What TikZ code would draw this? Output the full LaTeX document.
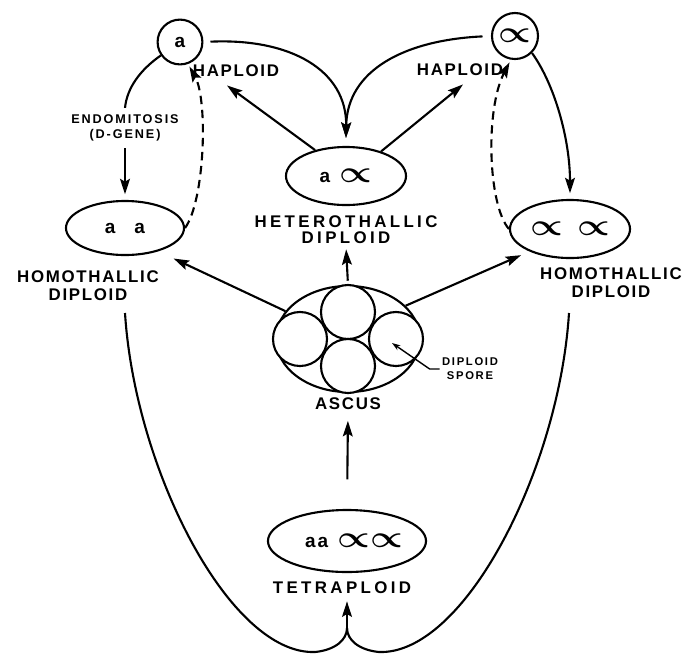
\documentclass[tikz,border=0pt]{standalone}
\usepackage{fontspec}
\usepackage{graphicx}
\usetikzlibrary{shapes.geometric,arrows.meta,calc}
\newfontfamily\lettering[LetterSpace=10]{Liberation Sans}
\newfontfamily\wideletter[LetterSpace=20]{Liberation Sans}
\newfontfamily\smallletter[LetterSpace=15]{Liberation Sans}
\newcommand{\alf}{\scalebox{1.8}[1.5]{\boldmath$\propto$}}

\begin{document}
\begin{tikzpicture}[
  x=0.025cm, y=-0.025cm, line width=1.5pt,
  cell/.style={draw, ellipse, inner sep=0pt, font=\lettering\bfseries\fontsize{13.5}{15}\selectfont},
  haploid/.style={draw, circle, inner sep=0pt, minimum size=1.12cm, font=\lettering\bfseries\fontsize{13.5}{15}\selectfont},
  spore/.style={draw, circle, fill=white, inner sep=0pt, minimum size=1.35cm},
  lbl/.style={align=center, inner sep=1pt, font=\lettering\bfseries\fontsize{12}{13}\selectfont},
  widelbl/.style={align=center, inner sep=1pt, font=\wideletter\bfseries\fontsize{12}{11.5}\selectfont},
  note/.style={align=center, inner sep=4pt, font=\smallletter\bfseries\fontsize{9}{11}\selectfont},
  arr/.style={-{Stealth[length=11pt,width=7pt,inset=2pt]}},
  back/.style={arr, dash pattern=on 6pt off 4pt}
]
  \useasboundingbox (0,0) rectangle (686,654);

  \node[haploid] (hapL) at (180,42) {a};
  \node[haploid, minimum size=1.15cm] (hapR) at (515,36) {\alf};
  \node[lbl] (hapLlbl) at (236,71) {HAPLOID};
  \node[lbl] (hapRlbl) at (460,70) {HAPLOID};

  \node[cell, minimum width=3cm, minimum height=1.45cm] (het) at (346,176) {a\enspace\alf};
  \node[widelbl] (hetlbl) at (346,230) {HETEROTHALLIC\\DIPLOID};

  \node[cell, minimum width=2.95cm, minimum height=1.35cm] (homL) at (125,228) {a\quad a};
  \node[lbl] (homLlbl) at (88,286) {HOMOTHALLIC\\DIPLOID};
  \node[cell, minimum width=3cm, minimum height=1.45cm] (homR) at (570,229) {\alf\hspace{10pt}\alf};
  \node[lbl] (homRlbl) at (611,283) {HOMOTHALLIC\\DIPLOID};

  \node[note] (endo) at (125,128) {ENDOMITOSIS\\(D-GENE)};

  \node[draw, ellipse, minimum width=3.6cm, minimum height=2.65cm] (ascus) at (348,339) {};
  \node[spore] (sp1) at (348,312) {};
  \node[spore] (sp2) at (300,339) {};
  \node[spore] (sp3) at (348,366) {};
  \node[spore] (sp4) at (396,339) {};
  \node[lbl] (asclbl) at (348,404) {ASCUS};
  \node[note, inner sep=1pt, font=\smallletter\bfseries\fontsize{8}{10}\selectfont] (sporelbl) at (470,369) {DIPLOID\\SPORE};

  \node[cell, minimum width=3.85cm, minimum height=1.55cm] (tet) at (347,541) {\hspace{10pt}aa\enspace\alf\alf};
  \node[widelbl] (tetlbl) at (342,588) {TETRAPLOID};

  \coordinate (lfoot) at (125,313);
  \coordinate (rfoot) at (569,313);
  \coordinate (meet) at (347,628);

  \draw[arr] (het.140) -- ($(hapLlbl.south)+(-9,6)$);
  \draw[arr] (het.35) -- ($(hapRlbl.south)+(3,6)$);
  \draw[arr, shorten <=5pt] (hapL.east) .. controls (290,38) and (347,70) .. ($(het.north)+(0,-8)$);
  \draw[arr, shorten <=6pt] (hapR.west) .. controls (405,40) and (347,70) .. ($(het.north)+(0,-8)$);

  \draw (hapL.215) .. controls (140,70) and (127,88) .. (endo.north);
  \draw[arr, shorten >=4pt] (endo.south) -- (homL.north);
  \draw[back, shorten >=2pt] (homL.east) .. controls (205,200) and (208,100) .. (hapL.290);

  \draw[arr, shorten >=4pt] (hapR.-45) .. controls (555,85) and (570,140) .. (homR.north);
  \draw[back, shorten >=2pt] (homR.west) .. controls (488,205) and (485,110) .. (hapR.260);

  \draw[arr, shorten <=3pt, shorten >=2pt] (ascus.north) -- (hetlbl.south);
  \draw[arr, shorten >=12pt] (ascus.156) -- (homL.-35);
  \draw[arr, shorten >=6.5pt] (ascus.30) -- (homR.209);
  \draw[-{Stealth[length=6pt,width=4pt]}, line width=1pt] (sporelbl.west) -- ++(-10,0) -- ($(sp4.center)+(-4,4)$);

  \draw[arr, shorten <=21pt, shorten >=6pt] (tet.north) -- (asclbl.south);

  \draw (lfoot) .. controls (135,470) and (230,655) .. (315,652) .. controls (335,650) and (347,640) .. (meet);
  \draw (rfoot) .. controls (559,470) and (464,655) .. (379,652) .. controls (359,650) and (347,640) .. (meet);
  \draw[arr, shorten >=3.5pt] (meet) -- (meet |- tetlbl.south);
\end{tikzpicture}
\end{document}
